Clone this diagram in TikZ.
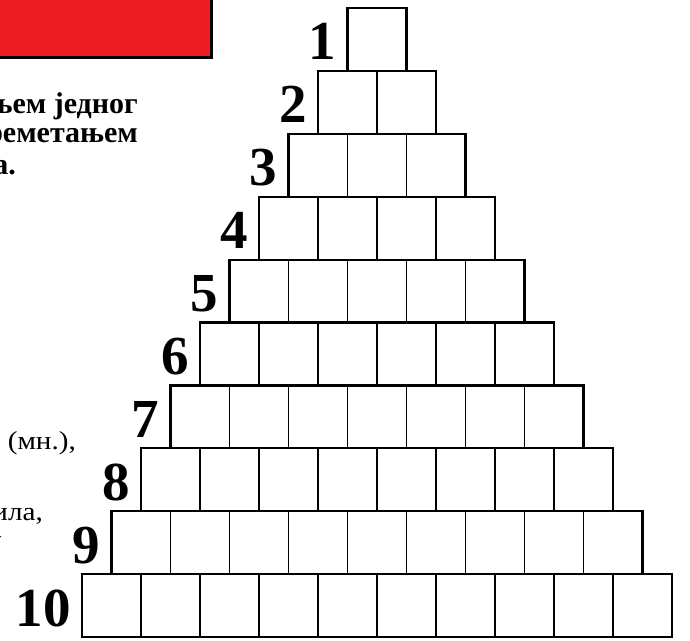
\documentclass[tikz,border=0pt]{standalone}
\usepackage{fontspec}
\setmainfont{Liberation Serif}
\newfontfamily\widefont[FakeStretch=1.12]{Liberation Serif}
\definecolor{redbox}{RGB}{237,28,36}
\begin{document}
\begin{tikzpicture}[x=1pt,y=-1pt,
  cell/.style={draw, line width=1.5pt, minimum width=59pt, minimum height=62.9pt, inner sep=0pt, outer sep=0pt},
  rowline/.style={draw, line width=2.2pt},
  lab/.style={anchor=base east, inner sep=0pt, font=\fontsize{55}{55}\selectfont\bfseries},
  boldtxt/.style={anchor=base east, inner sep=0pt, font=\fontsize{30}{30}\selectfont\bfseries},
  regtxt/.style={anchor=base east, inner sep=0pt, font=\widefont\fontsize{26}{28}\selectfont}]
\useasboundingbox (0,0) rectangle (690,640);
\fill[white] (0,0) rectangle (690,640);
% red banner
\node[draw=black, fill=redbox, line width=2.6pt, minimum width=220pt, minimum height=66pt, inner sep=0pt, anchor=south east] (banner) at (213,59) {};
% texts
\node[boldtxt] (t1) at (138,113) {њем једног};
\node[boldtxt] (t2) at (138,142) {реметањем};
\node[boldtxt] (t3) at (16,174) {а.};
\node[regtxt] (t4) at (76,449) {(мн.),};
\node[regtxt] (t5) at (43,520) {ила,};
\node[anchor=base east, inner sep=0pt, font=\fontsize{14}{14}\selectfont] (t6) at (2,540) {-};
% pyramid
\foreach \r in {1,...,10} {
  \foreach \i in {1,...,\r} {
    \node[cell] (c\r-\i) at ({377 - \r*29.5 + (\i-0.5)*59}, {8 + (\r-0.5)*62.9}) {};
  }
  \draw[rowline] (c\r-1.north west) rectangle (c\r-\r.south east);
  \node[lab] (n\r) at ({377-\r*29.5-11}, {8+\r*62.9-11}) {\r};
}
\end{tikzpicture}
\end{document}
